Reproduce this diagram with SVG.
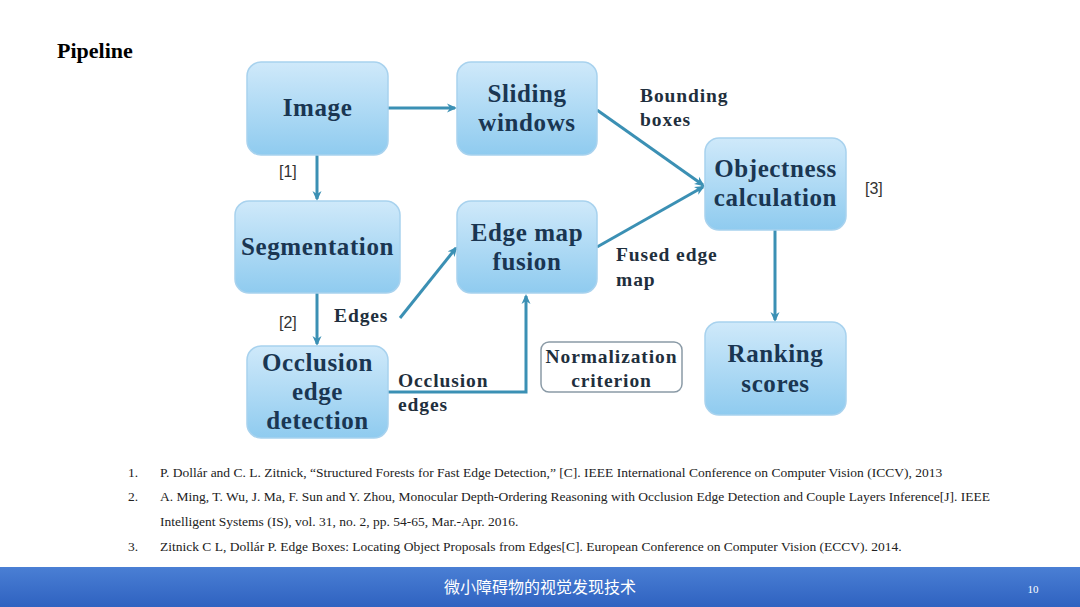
<svg xmlns="http://www.w3.org/2000/svg" width="1080" height="607" viewBox="0 0 1080 607">
<style>
.node rect{fill:url(#g);stroke:#a8d2ee;stroke-width:1.5}
.nt{font-family:"Liberation Serif","DejaVu Serif",serif;font-size:25px;letter-spacing:0.6px;font-weight:bold;fill:#1a3652;text-anchor:middle}
.lb{font-family:"Liberation Serif","DejaVu Serif",serif;font-size:19.5px;letter-spacing:0.9px;font-weight:bold;fill:#1f2f3d}
.ref{font-family:"Liberation Sans","Noto Sans",sans-serif;font-size:16px;fill:#333}
.rf{font-family:"Liberation Serif",serif;font-size:13.5px;fill:#222}
.cn{stroke:#3b90b4;stroke-width:3;fill:none;marker-end:url(#a)}
</style>
<defs>
<linearGradient id="g" x1="0" y1="0" x2="0" y2="1"><stop offset="0" stop-color="#cfe9fa"/><stop offset="1" stop-color="#8fcbef"/></linearGradient>
<linearGradient id="bar" x1="0" y1="0" x2="0" y2="1"><stop offset="0" stop-color="#4a7fd4"/><stop offset="1" stop-color="#2f62c0"/></linearGradient>
<marker id="a" markerWidth="10" markerHeight="10" refX="8" refY="5" orient="auto" markerUnits="userSpaceOnUse"><path d="M0,0.5 L10,5 L0,9.5 L3,5 Z" fill="#3b90b4"/></marker>
</defs>
<rect width="1080" height="607" fill="#fff"/>
<text x="57" y="58" font-family="Liberation Serif,serif" font-size="22" font-weight="bold" fill="#000">Pipeline</text>
<g id="connectors">
<path class="cn" d="M388,108 L455,108"/>
<path class="cn" d="M317,155 L317,199"/>
<path class="cn" d="M597,110 L703,185"/>
<path class="cn" d="M597,247 L703,187"/>
<path class="cn" d="M317,293 L317,344"/>
<path class="cn" d="M400,318 L456,248"/>
<path class="cn" d="M388,392 L526,392 L526,296"/>
<path class="cn" d="M775,230 L775,320"/>
</g>
<g id="image" class="node"><rect x="247" y="62" width="141" height="93" rx="14"/><text class="nt" x="317.5" y="116">Image</text></g>
<g id="sliding" class="node"><rect x="457" y="62" width="140" height="93" rx="14"/><text class="nt" x="527" y="102">Sliding</text><text class="nt" x="527" y="131">windows</text></g>
<g id="segmentation" class="node"><rect x="235" y="201" width="165" height="92" rx="14"/><text class="nt" x="317.5" y="255">Segmentation</text></g>
<g id="edgemap" class="node"><rect x="457" y="201" width="140" height="92" rx="14"/><text class="nt" x="527" y="241">Edge map</text><text class="nt" x="527" y="270">fusion</text></g>
<g id="occlusion" class="node"><rect x="247" y="346" width="141" height="92" rx="14"/><text class="nt" x="317.5" y="371">Occlusion</text><text class="nt" x="317.5" y="400">edge</text><text class="nt" x="317.5" y="429">detection</text></g>
<g id="objectness" class="node"><rect x="705" y="138" width="141" height="92" rx="14"/><text class="nt" x="775.5" y="177">Objectness</text><text class="nt" x="775.5" y="206">calculation</text></g>
<g id="ranking" class="node"><rect x="705" y="322" width="141" height="93" rx="14"/><text class="nt" x="775.5" y="362">Ranking</text><text class="nt" x="775.5" y="392">scores</text></g>
<g id="normalization"><rect x="541" y="342" width="141" height="50" rx="8" fill="#fff" stroke="#8a9aa6" stroke-width="1.5"/><text class="lb" x="611.5" y="363" text-anchor="middle">Normalization</text><text class="lb" x="611.5" y="387" text-anchor="middle">criterion</text></g>
<text class="ref" x="279" y="177">[1]</text>
<text class="ref" x="279" y="328">[2]</text>
<text class="ref" x="865" y="194">[3]</text>
<text class="lb" x="334" y="322">Edges</text>
<text class="lb" x="640" y="102">Bounding</text>
<text class="lb" x="640" y="126">boxes</text>
<text class="lb" x="616" y="261">Fused edge</text>
<text class="lb" x="616" y="286">map</text>
<text class="lb" x="398" y="387">Occlusion</text>
<text class="lb" x="398" y="411">edges</text>
<text class="rf" x="128" y="477">1.</text>
<text class="rf" x="160" y="477">P. Dollár and C. L. Zitnick, “Structured Forests for Fast Edge Detection,” [C]. IEEE International Conference on Computer Vision (ICCV), 2013</text>
<text class="rf" x="128" y="501">2.</text>
<text class="rf" x="160" y="501">A. Ming, T. Wu, J. Ma, F. Sun and Y. Zhou, Monocular Depth-Ordering Reasoning with Occlusion Edge Detection and Couple Layers Inference[J]. IEEE</text>
<text class="rf" x="160" y="526">Intelligent Systems (IS), vol. 31, no. 2, pp. 54-65, Mar.-Apr. 2016.</text>
<text class="rf" x="128" y="551">3.</text>
<text class="rf" x="160" y="551">Zitnick C L, Dollár P. Edge Boxes: Locating Object Proposals from Edges[C]. European Conference on Computer Vision (ECCV). 2014.</text>
<rect x="0" y="567" width="1080" height="40" fill="url(#bar)"/>
<text x="540" y="593" text-anchor="middle" font-family="Noto Sans CJK SC,sans-serif" font-size="16" fill="#fff">微小障碍物的视觉发现技术</text>
<text x="1033" y="593" text-anchor="middle" font-family="Liberation Serif,serif" font-size="11" fill="#fff">10</text>
</svg>
